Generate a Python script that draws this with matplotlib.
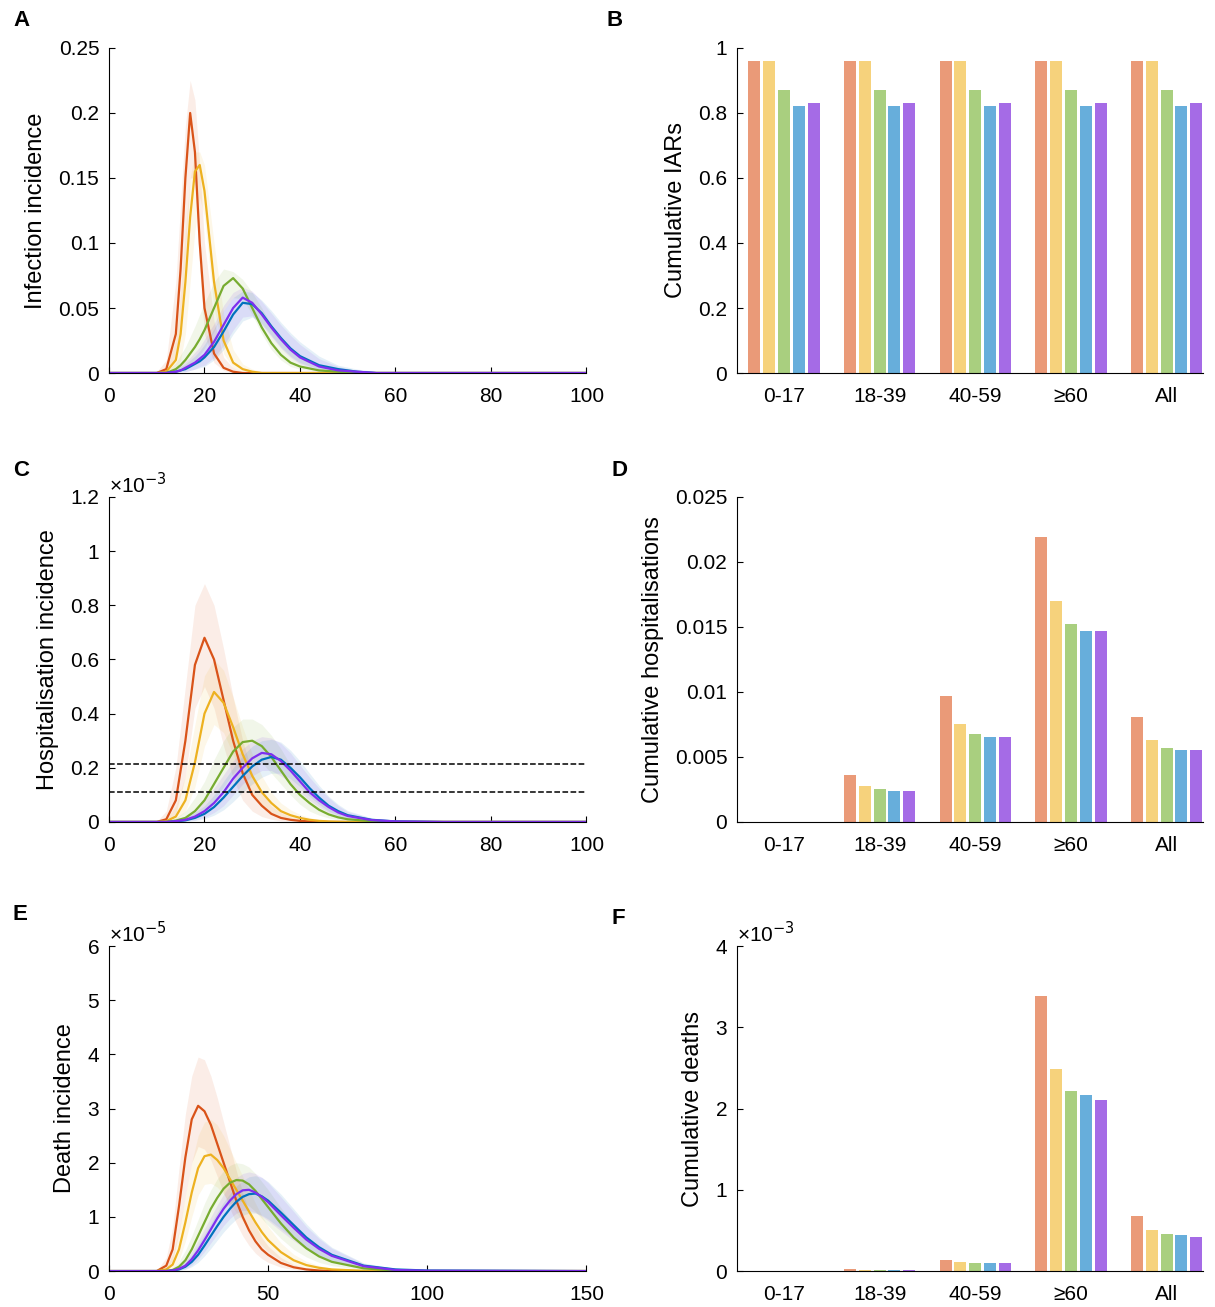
import numpy as np
import matplotlib
matplotlib.use("Agg")
import matplotlib.pyplot as plt

plt.rcParams["font.family"] = ["Liberation Sans", "DejaVu Sans"]
plt.rcParams["font.size"] = 14

line_colors = ["#D95319", "#EDB120", "#77AC30", "#0072BD", "#7E2FEF"]
bar_colors = ["#EA9A78", "#F6D27C", "#A9CF7F", "#67AEDB", "#A56BE6"]
groups = ["0-17", "18-39", "40-59", "\u226560", "All"]

# ---- panel A: infection incidence ----
days_a = [0, 10, 12, 14, 15, 16, 17, 18, 19, 20, 22, 24, 26, 28, 30, 32, 34, 36, 38, 40, 44, 48, 52, 56, 60, 70, 100]
inf_mid = [
    [0, 0, 0.003, 0.03, 0.08, 0.15, 0.20, 0.17, 0.10, 0.05, 0.015, 0.004, 0.001, 0, 0, 0, 0, 0, 0, 0, 0, 0, 0, 0, 0, 0, 0],
    [0, 0, 0.001, 0.01, 0.03, 0.07, 0.12, 0.155, 0.16, 0.14, 0.07, 0.025, 0.008, 0.003, 0.001, 0, 0, 0, 0, 0, 0, 0, 0, 0, 0, 0, 0],
    [0, 0, 0, 0.003, 0.006, 0.01, 0.015, 0.02, 0.026, 0.033, 0.05, 0.067, 0.073, 0.065, 0.05, 0.035, 0.023, 0.014, 0.008, 0.005, 0.002, 0.001, 0, 0, 0, 0, 0],
    [0, 0, 0, 0.001, 0.002, 0.003, 0.005, 0.007, 0.009, 0.012, 0.02, 0.032, 0.045, 0.054, 0.053, 0.046, 0.036, 0.027, 0.019, 0.013, 0.006, 0.003, 0.001, 0, 0, 0, 0],
    [0, 0, 0, 0.001, 0.002, 0.004, 0.006, 0.008, 0.011, 0.014, 0.024, 0.037, 0.05, 0.058, 0.054, 0.045, 0.035, 0.026, 0.018, 0.012, 0.005, 0.002, 0.001, 0, 0, 0, 0],
]
inf_lo = [
    [0, 0, 0.001, 0.01, 0.04, 0.09, 0.15, 0.15, 0.08, 0.03, 0.008, 0.002, 0, 0, 0, 0, 0, 0, 0, 0, 0, 0, 0, 0, 0, 0, 0],
    [0, 0, 0, 0.003, 0.01, 0.03, 0.07, 0.11, 0.135, 0.12, 0.05, 0.015, 0.004, 0.001, 0, 0, 0, 0, 0, 0, 0, 0, 0, 0, 0, 0, 0],
    [0, 0, 0, 0.001, 0.002, 0.004, 0.007, 0.01, 0.014, 0.019, 0.032, 0.048, 0.058, 0.057, 0.045, 0.03, 0.018, 0.01, 0.005, 0.003, 0.001, 0, 0, 0, 0, 0, 0],
    [0, 0, 0, 0, 0.001, 0.001, 0.002, 0.003, 0.004, 0.005, 0.01, 0.018, 0.03, 0.04, 0.043, 0.038, 0.029, 0.02, 0.013, 0.008, 0.003, 0.001, 0, 0, 0, 0, 0],
    [0, 0, 0, 0, 0.001, 0.001, 0.002, 0.003, 0.005, 0.006, 0.012, 0.021, 0.033, 0.043, 0.044, 0.037, 0.028, 0.019, 0.012, 0.007, 0.002, 0.001, 0, 0, 0, 0, 0],
]
inf_hi = [
    [0, 0.001, 0.01, 0.07, 0.13, 0.19, 0.225, 0.21, 0.16, 0.1, 0.04, 0.012, 0.004, 0.001, 0, 0, 0, 0, 0, 0, 0, 0, 0, 0, 0, 0, 0],
    [0, 0, 0.004, 0.025, 0.06, 0.11, 0.15, 0.17, 0.17, 0.16, 0.1, 0.045, 0.018, 0.007, 0.003, 0.001, 0, 0, 0, 0, 0, 0, 0, 0, 0, 0, 0],
    [0, 0, 0.001, 0.008, 0.014, 0.02, 0.028, 0.036, 0.045, 0.054, 0.07, 0.08, 0.078, 0.072, 0.062, 0.05, 0.037, 0.026, 0.018, 0.012, 0.005, 0.002, 0.001, 0, 0, 0, 0],
    [0, 0, 0.001, 0.003, 0.005, 0.007, 0.01, 0.013, 0.017, 0.022, 0.034, 0.048, 0.058, 0.063, 0.062, 0.056, 0.048, 0.039, 0.031, 0.024, 0.013, 0.006, 0.003, 0.001, 0, 0, 0],
    [0, 0, 0.001, 0.004, 0.006, 0.009, 0.012, 0.016, 0.02, 0.026, 0.038, 0.052, 0.062, 0.066, 0.063, 0.055, 0.046, 0.037, 0.029, 0.022, 0.011, 0.005, 0.002, 0.001, 0, 0, 0],
]

# ---- panel C: hospitalisation incidence (x1e-3) ----
days_c = [0, 10, 12, 14, 16, 18, 20, 22, 24, 26, 28, 30, 32, 34, 36, 38, 40, 42, 44, 46, 48, 50, 55, 60, 70, 100]
hosp_mid = [
    [0, 0, 0.01, 0.08, 0.3, 0.58, 0.68, 0.6, 0.45, 0.3, 0.18, 0.1, 0.06, 0.03, 0.015, 0.008, 0.004, 0.002, 0.001, 0, 0, 0, 0, 0, 0, 0],
    [0, 0, 0.003, 0.02, 0.08, 0.22, 0.4, 0.48, 0.44, 0.35, 0.25, 0.17, 0.11, 0.07, 0.04, 0.025, 0.015, 0.008, 0.004, 0.002, 0.001, 0, 0, 0, 0, 0],
    [0, 0, 0, 0.005, 0.015, 0.04, 0.08, 0.14, 0.2, 0.26, 0.295, 0.30, 0.28, 0.24, 0.19, 0.14, 0.1, 0.07, 0.045, 0.028, 0.017, 0.01, 0.003, 0.001, 0, 0],
    [0, 0, 0, 0.002, 0.006, 0.015, 0.03, 0.055, 0.09, 0.13, 0.17, 0.205, 0.23, 0.24, 0.23, 0.2, 0.165, 0.125, 0.09, 0.06, 0.04, 0.025, 0.008, 0.002, 0, 0],
    [0, 0, 0, 0.003, 0.008, 0.02, 0.04, 0.07, 0.11, 0.16, 0.2, 0.235, 0.255, 0.25, 0.225, 0.19, 0.15, 0.11, 0.08, 0.055, 0.035, 0.022, 0.007, 0.002, 0, 0],
]
hosp_lo = [
    [0, 0, 0, 0.03, 0.17, 0.42, 0.5, 0.42, 0.28, 0.16, 0.08, 0.04, 0.02, 0.01, 0.004, 0.002, 0, 0, 0, 0, 0, 0, 0, 0, 0, 0],
    [0, 0, 0, 0.008, 0.04, 0.13, 0.28, 0.36, 0.33, 0.25, 0.16, 0.1, 0.06, 0.035, 0.02, 0.01, 0.005, 0.002, 0, 0, 0, 0, 0, 0, 0, 0],
    [0, 0, 0, 0.001, 0.005, 0.015, 0.04, 0.08, 0.13, 0.18, 0.22, 0.235, 0.22, 0.18, 0.14, 0.1, 0.065, 0.04, 0.025, 0.015, 0.008, 0.004, 0.001, 0, 0, 0],
    [0, 0, 0, 0, 0.002, 0.005, 0.012, 0.025, 0.045, 0.075, 0.11, 0.14, 0.165, 0.18, 0.18, 0.16, 0.13, 0.095, 0.065, 0.04, 0.025, 0.015, 0.004, 0.001, 0, 0],
    [0, 0, 0, 0, 0.003, 0.007, 0.017, 0.035, 0.06, 0.1, 0.14, 0.17, 0.19, 0.19, 0.17, 0.145, 0.11, 0.08, 0.055, 0.035, 0.02, 0.012, 0.003, 0.001, 0, 0],
]
hosp_hi = [
    [0, 0.002, 0.04, 0.2, 0.5, 0.8, 0.88, 0.8, 0.64, 0.46, 0.3, 0.18, 0.11, 0.06, 0.035, 0.02, 0.01, 0.005, 0.002, 0.001, 0, 0, 0, 0, 0, 0],
    [0, 0, 0.01, 0.06, 0.17, 0.36, 0.54, 0.6, 0.56, 0.46, 0.35, 0.25, 0.17, 0.11, 0.07, 0.045, 0.028, 0.016, 0.009, 0.005, 0.002, 0.001, 0, 0, 0, 0],
    [0, 0, 0.002, 0.015, 0.04, 0.09, 0.15, 0.23, 0.3, 0.35, 0.38, 0.38, 0.36, 0.32, 0.27, 0.21, 0.16, 0.115, 0.08, 0.05, 0.032, 0.02, 0.006, 0.002, 0, 0],
    [0, 0, 0.001, 0.006, 0.015, 0.035, 0.06, 0.1, 0.15, 0.2, 0.245, 0.28, 0.3, 0.305, 0.295, 0.265, 0.225, 0.18, 0.135, 0.095, 0.065, 0.042, 0.015, 0.005, 0.001, 0],
    [0, 0, 0.002, 0.008, 0.02, 0.045, 0.08, 0.125, 0.175, 0.225, 0.27, 0.3, 0.315, 0.31, 0.29, 0.255, 0.21, 0.165, 0.125, 0.09, 0.06, 0.038, 0.013, 0.004, 0.001, 0],
]
hosp_thresholds = [0.215, 0.11]

# ---- panel E: death incidence (x1e-5) ----
days_e = [0, 15, 18, 20, 22, 24, 26, 28, 30, 32, 34, 36, 38, 40, 42, 44, 46, 48, 50, 54, 58, 62, 66, 70, 80, 90, 100, 150]
death_mid = [
    [0, 0, 0.1, 0.4, 1.2, 2.1, 2.8, 3.05, 2.95, 2.7, 2.35, 2.0, 1.65, 1.3, 1.0, 0.75, 0.55, 0.4, 0.3, 0.15, 0.07, 0.03, 0.01, 0, 0, 0, 0, 0],
    [0, 0, 0.03, 0.12, 0.4, 0.9, 1.45, 1.9, 2.12, 2.15, 2.05, 1.9, 1.7, 1.5, 1.3, 1.1, 0.9, 0.72, 0.57, 0.35, 0.2, 0.11, 0.06, 0.03, 0.005, 0, 0, 0],
    [0, 0, 0, 0.02, 0.08, 0.2, 0.4, 0.65, 0.9, 1.15, 1.35, 1.52, 1.63, 1.68, 1.67, 1.6, 1.48, 1.33, 1.18, 0.88, 0.62, 0.42, 0.27, 0.17, 0.05, 0.01, 0, 0],
    [0, 0, 0, 0.01, 0.03, 0.08, 0.17, 0.3, 0.47, 0.65, 0.83, 1.0, 1.15, 1.28, 1.37, 1.42, 1.43, 1.38, 1.3, 1.08, 0.85, 0.62, 0.44, 0.3, 0.1, 0.03, 0.01, 0],
    [0, 0, 0, 0.01, 0.04, 0.1, 0.22, 0.38, 0.57, 0.77, 0.97, 1.15, 1.3, 1.42, 1.49, 1.5, 1.45, 1.37, 1.27, 1.03, 0.8, 0.58, 0.41, 0.28, 0.09, 0.02, 0.005, 0],
]
death_lo = [
    [0, 0, 0.03, 0.2, 0.7, 1.4, 2.0, 2.3, 2.25, 2.05, 1.75, 1.45, 1.15, 0.88, 0.65, 0.47, 0.33, 0.23, 0.16, 0.07, 0.03, 0.01, 0, 0, 0, 0, 0, 0],
    [0, 0, 0.01, 0.05, 0.2, 0.55, 1.0, 1.4, 1.6, 1.62, 1.55, 1.42, 1.25, 1.08, 0.92, 0.76, 0.6, 0.47, 0.36, 0.2, 0.11, 0.06, 0.03, 0.01, 0, 0, 0, 0],
    [0, 0, 0, 0.005, 0.03, 0.09, 0.22, 0.4, 0.6, 0.82, 1.0, 1.15, 1.25, 1.3, 1.28, 1.2, 1.1, 0.97, 0.84, 0.6, 0.4, 0.26, 0.16, 0.1, 0.02, 0, 0, 0],
    [0, 0, 0, 0, 0.01, 0.03, 0.08, 0.16, 0.28, 0.42, 0.57, 0.72, 0.85, 0.96, 1.03, 1.07, 1.07, 1.03, 0.96, 0.78, 0.6, 0.43, 0.29, 0.19, 0.05, 0.01, 0, 0],
    [0, 0, 0, 0, 0.015, 0.04, 0.11, 0.22, 0.36, 0.52, 0.68, 0.84, 0.97, 1.07, 1.12, 1.12, 1.08, 1.01, 0.93, 0.74, 0.56, 0.4, 0.27, 0.18, 0.05, 0.01, 0, 0],
]
death_hi = [
    [0, 0.01, 0.25, 0.8, 1.9, 2.9, 3.6, 3.95, 3.9, 3.6, 3.2, 2.75, 2.3, 1.85, 1.45, 1.1, 0.85, 0.62, 0.46, 0.25, 0.12, 0.06, 0.02, 0.01, 0, 0, 0, 0],
    [0, 0, 0.08, 0.3, 0.75, 1.4, 2.0, 2.5, 2.75, 2.8, 2.7, 2.5, 2.25, 2.0, 1.75, 1.5, 1.25, 1.02, 0.82, 0.52, 0.31, 0.18, 0.1, 0.05, 0.01, 0, 0, 0],
    [0, 0, 0.01, 0.06, 0.18, 0.38, 0.65, 0.95, 1.25, 1.5, 1.7, 1.85, 1.95, 2.0, 1.98, 1.92, 1.8, 1.65, 1.5, 1.17, 0.86, 0.6, 0.4, 0.26, 0.08, 0.02, 0.005, 0],
    [0, 0, 0.005, 0.03, 0.08, 0.17, 0.3, 0.48, 0.68, 0.88, 1.08, 1.27, 1.43, 1.57, 1.67, 1.74, 1.76, 1.73, 1.65, 1.42, 1.15, 0.87, 0.63, 0.44, 0.15, 0.05, 0.015, 0],
    [0, 0, 0.005, 0.04, 0.1, 0.2, 0.36, 0.56, 0.78, 1.0, 1.22, 1.42, 1.58, 1.72, 1.8, 1.83, 1.8, 1.73, 1.63, 1.37, 1.1, 0.82, 0.6, 0.42, 0.14, 0.04, 0.01, 0],
]

# ---- bar panels ----
iar = [[0.96, 0.96, 0.87, 0.82, 0.83]] * 5
cum_hosp = [
    [0.00003, 0.00002, 0.00002, 0.00002, 0.00002],
    [0.0036, 0.0028, 0.0025, 0.0024, 0.0024],
    [0.0097, 0.0075, 0.0068, 0.0065, 0.0065],
    [0.0219, 0.0170, 0.0152, 0.0147, 0.0147],
    [0.0081, 0.0063, 0.0057, 0.0055, 0.0055],
]
cum_death = [  # x1e-3
    [0.001, 0.001, 0.001, 0.001, 0.001],
    [0.02, 0.015, 0.013, 0.012, 0.012],
    [0.14, 0.11, 0.10, 0.10, 0.10],
    [3.38, 2.49, 2.22, 2.17, 2.11],
    [0.68, 0.50, 0.45, 0.44, 0.42],
]


def style_axes(ax):
    for s in ["top", "right"]:
        ax.spines[s].set_visible(False)
    ax.tick_params(direction="in", length=4, labelsize=15)
    ax.tick_params(axis="x", pad=10)
    ax.tick_params(axis="y", pad=7)


def line_panel(ax, days, mid, lo, hi, xlim, ylim, yticks, ylabel, ticklabels=None):
    for k in range(5):
        ax.fill_between(days, lo[k], hi[k], color=line_colors[k], alpha=0.1, lw=0)
    for k in range(5):
        ax.plot(days, mid[k], color=line_colors[k], lw=1.6)
    ax.set_xlim(*xlim)
    ax.set_ylim(*ylim)
    ax.set_yticks(yticks)
    if ticklabels is not None:
        ax.set_yticklabels(ticklabels)
    ax.set_ylabel(ylabel, fontsize=17, labelpad=8)
    style_axes(ax)


def bar_panel(ax, values, ylim, yticks, ylabel, ticklabels=None):
    offsets = [-0.31, -0.155, 0.0, 0.155, 0.31]
    x = np.arange(1, 6)
    for k in range(5):
        ax.bar(x + offsets[k], [v[k] for v in values], width=0.125, color=bar_colors[k])
    ax.set_xlim(0.51, 5.38)
    ax.set_xticks(x)
    ax.set_xticklabels(groups)
    ax.set_ylim(*ylim)
    ax.set_yticks(yticks)
    if ticklabels is not None:
        ax.set_yticklabels(ticklabels)
    ax.set_ylabel(ylabel, fontsize=17, labelpad=8)
    style_axes(ax)
    ax.tick_params(axis="x", length=0)


fig = plt.figure(figsize=(12.15, 13.07), dpi=100)
lx, lw = 0.0897, 0.393
rx, rw = 0.6066, 0.3835
h = 0.2487
bottoms = [0.7146, 0.3711, 0.0275]

axA = fig.add_axes([lx, bottoms[0], lw, h])
line_panel(axA, days_a, inf_mid, inf_lo, inf_hi, (0, 100), (0, 0.25),
           [0, 0.05, 0.1, 0.15, 0.2, 0.25], "Infection incidence",
           ["0", "0.05", "0.1", "0.15", "0.2", "0.25"])
axA.set_xticks([0, 20, 40, 60, 80, 100])

axB = fig.add_axes([rx, bottoms[0], rw, h])
bar_panel(axB, iar, (0, 1), [0, 0.2, 0.4, 0.6, 0.8, 1], "Cumulative IARs",
          ["0", "0.2", "0.4", "0.6", "0.8", "1"])

axC = fig.add_axes([lx, bottoms[1], lw, h])
line_panel(axC, days_c, hosp_mid, hosp_lo, hosp_hi, (0, 100), (0, 1.2),
           [0, 0.2, 0.4, 0.6, 0.8, 1.0, 1.2], "Hospitalisation incidence",
           ["0", "0.2", "0.4", "0.6", "0.8", "1", "1.2"])
for t in hosp_thresholds:
    axC.axhline(t, color="black", ls="--", lw=1.1)
axC.set_xticks([0, 20, 40, 60, 80, 100])
axC.text(0.0, 1.0, "\u00d710$^{-3}$", transform=axC.transAxes, fontsize=15, va="bottom", ha="left")

axD = fig.add_axes([rx, bottoms[1], rw, h])
bar_panel(axD, cum_hosp, (0, 0.025), [0, 0.005, 0.01, 0.015, 0.02, 0.025],
          "Cumulative hospitalisations", ["0", "0.005", "0.01", "0.015", "0.02", "0.025"])

axE = fig.add_axes([lx, bottoms[2], lw, h])
line_panel(axE, days_e, death_mid, death_lo, death_hi, (0, 150), (0, 6),
           [0, 1, 2, 3, 4, 5, 6], "Death incidence")
axE.set_xticks([0, 50, 100, 150])
axE.text(0.0, 1.0, "\u00d710$^{-5}$", transform=axE.transAxes, fontsize=15, va="bottom", ha="left")

axF = fig.add_axes([rx, bottoms[2], rw, h])
bar_panel(axF, cum_death, (0, 4), [0, 1, 2, 3, 4], "Cumulative deaths")
axF.text(0.0, 1.0, "\u00d710$^{-3}$", transform=axF.transAxes, fontsize=15, va="bottom", ha="left")

for lab, (px, py) in zip("ABCDEF", [(13, 20), (606, 20), (13, 470), (612, 470), (13, 915), (612, 918)]):
    fig.text(px / 1215, 1 - py / 1307, lab, fontsize=16, fontweight="bold", va="center")

fig.savefig("out.png", dpi=100)
